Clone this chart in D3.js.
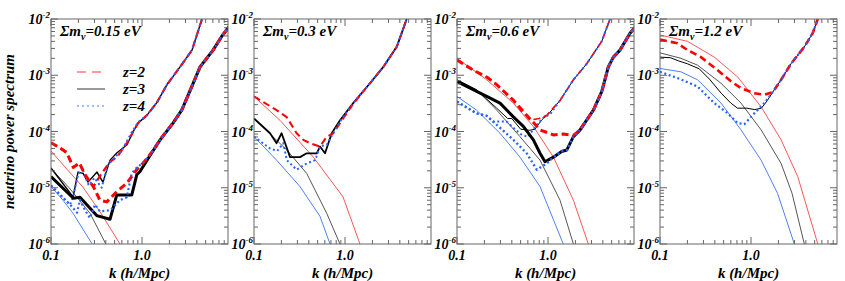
<!DOCTYPE html>
<html><head><meta charset="utf-8">
<script src="https://cdn.jsdelivr.net/npm/d3@7/dist/d3.min.js"></script>
<style>
body{margin:0;background:#fff;}
svg{display:block;}
text{font-family:"Liberation Serif","Times New Roman",serif;font-weight:bold;font-style:italic;fill:#000;}
</style>
</head><body>
<svg id="chart" width="845" height="281"></svg>
<script>
// ---------------- DATA ----------------
const panelMasses = ["0.15", "0.3", "0.6", "1.2"];
const redshiftLabels = ["z=2", "z=3", "z=4"];
const xTickValues = [0.1, 1];
const xTickLabels = ["0.1", "1.0"];
const yTickExponents = [-2, -3, -4, -5, -6];
const xTitle = "k (h/Mpc)";
const yTitle = "neutrino power spectrum";

// Sum m_nu = 0.15 eV
const p015_th_z2 = [[0.1,4.5e-5],[0.151,2.1e-5],[0.225,1.02e-5],[0.355,3.5e-6],[0.573,1.0e-6],[0.79,3.2e-7]];
const p015_th_z3 = [[0.1,2.2e-5],[0.158,1.0e-5],[0.269,3.5e-6],[0.40,1.0e-6],[0.63,2e-7]];
const p015_th_z4 = [[0.1,1.05e-5],[0.132,6.3e-6],[0.175,3.5e-6],[0.283,1.0e-6],[0.447,2.5e-7]];
const p015_lo_z3 = [[0.1,1.58e-5],[0.176,6.5e-6],[0.208,6.8e-6],[0.318,3.2e-6],[0.445,2.75e-6],[0.527,7.4e-6],[0.771,7.4e-6],[0.875,1.7e-5],[0.95,1.95e-5],[1.28,4.2e-5],[1.58,7.1e-5],[2.19,1.41e-4],[2.73,2.4e-4],[3.52,6.3e-4],[4.34,1.41e-3],[6.03,2.8e-3],[7.5,4.9e-3],[9.3,7.8e-3]];
const p015_lo_z2 = [[0.1,6.3e-5],[0.126,5.1e-5],[0.149,4.2e-5],[0.176,2.3e-5],[0.205,2.75e-5],[0.237,1.7e-5],[0.292,1.05e-5],[0.345,6e-6],[0.41,5.6e-6],[0.527,8.5e-6],[0.68,1.2e-5],[0.875,2.1e-5],[1.03,2.75e-5],[1.28,4.3e-5],[1.58,7.2e-5],[2.19,1.42e-4],[2.73,2.4e-4],[3.52,6.3e-4],[4.34,1.4e-3],[6.03,2.8e-3],[7.5,4.9e-3],[9.3,7.8e-3]];
const p015_lo_z4 = [[0.1,1.1e-5],[0.126,7.5e-6],[0.162,5e-6],[0.193,3.6e-6],[0.208,6.1e-6],[0.236,4e-6],[0.268,2.9e-6],[0.305,5e-6],[0.345,3.8e-6],[0.45,4e-6],[0.57,6e-6],[0.68,6.8e-6],[0.77,1.8e-5],[0.88,2.3e-5],[1.03,2.8e-5],[1.28,4.2e-5],[1.58,7.1e-5],[2.19,1.41e-4],[2.73,2.4e-4],[3.52,6.3e-4],[4.34,1.41e-3],[6.03,2.8e-3],[7.5,4.9e-3],[9.3,7.8e-3]];
const p015_hi_z3 = [[0.1,2.24e-5],[0.175,6.9e-6],[0.198,1.9e-5],[0.225,1.8e-5],[0.255,1.26e-5],[0.32,1.9e-5],[0.372,1.26e-5],[0.445,3.1e-5],[0.531,4.2e-5],[0.684,5.8e-5],[0.796,9.8e-5],[0.904,1.41e-4],[1.135,1.95e-4],[1.46,3.3e-4],[1.88,6.8e-4],[2.62,1.41e-3],[3.54,2.8e-3],[4.56,1e-2]];
const p015_hi_z2 = [[0.1,6.3e-5],[0.126,5.1e-5],[0.149,4.2e-5],[0.176,2.3e-5],[0.205,2.75e-5],[0.237,1.7e-5],[0.292,1.05e-5],[0.36,1.8e-5],[0.445,2.9e-5],[0.531,3.5e-5],[0.684,6.3e-5],[0.796,9.8e-5],[0.904,1.41e-4],[1.135,1.95e-4],[1.46,3.3e-4],[1.88,6.8e-4],[2.62,1.41e-3],[3.54,2.8e-3],[4.56,1e-2]];
const p015_hi_z4 = [[0.1,1.1e-5],[0.126,7.5e-6],[0.162,5e-6],[0.175,7e-6],[0.2,1.8e-5],[0.225,2e-5],[0.26,1.1e-5],[0.3,1.5e-5],[0.36,1.0e-5],[0.42,2.5e-5],[0.5,3.5e-5],[0.6,4.5e-5],[0.75,9e-5],[0.904,1.45e-4],[1.135,1.95e-4],[1.46,3.3e-4],[1.88,6.8e-4],[2.62,1.41e-3],[3.54,2.8e-3],[4.56,1e-2]];

// Sum m_nu = 0.3 eV
const p03_th_z2 = [[0.1,4.2e-4],[0.193,1.58e-4],[0.449,3.5e-5],[0.95,6.9e-6],[1.46,1.0e-6],[2.0,2.5e-7]];
const p03_th_z3 = [[0.1,1.7e-4],[0.229,4.7e-5],[0.379,1.8e-5],[0.63,3.5e-6],[0.88,1.0e-6],[1.26,2e-7]];
const p03_th_z4 = [[0.1,8.1e-5],[0.177,3.1e-5],[0.32,1.05e-5],[0.531,3.1e-6],[0.684,1.0e-6],[1.0,2.5e-7]];
const p03_z3 = [[0.1,1.7e-4],[0.15,9.3e-5],[0.177,6.2e-5],[0.201,9.3e-5],[0.249,3.5e-5],[0.32,3.5e-5],[0.379,4.1e-5],[0.489,4.1e-5],[0.531,5.4e-5],[0.603,4.1e-5],[0.714,9.3e-5],[0.881,1.58e-4],[1.23,3.2e-4],[1.88,7.2e-4],[2.64,1.41e-3],[3.7,3.2e-3],[4.76,1e-2]];
const p03_z2 = [[0.1,4.2e-4],[0.177,2.4e-4],[0.229,1.8e-4],[0.294,9.3e-5],[0.348,7.1e-5],[0.412,6.2e-5],[0.531,5.4e-5],[0.63,8.1e-5],[0.743,9.3e-5],[0.881,1.41e-4],[1.23,3.1e-4],[1.88,7.2e-4],[2.64,1.41e-3],[3.7,3.2e-3],[4.76,1e-2]];
const p03_z4 = [[0.1,8.1e-5],[0.15,5e-5],[0.18,4.5e-5],[0.21,6.2e-5],[0.229,3.1e-5],[0.294,2.1e-5],[0.379,2.7e-5],[0.47,3.1e-5],[0.531,5.4e-5],[0.63,5.8e-5],[0.743,9.3e-5],[0.881,1.5e-4],[1.23,3.2e-4],[1.88,7.2e-4],[2.64,1.41e-3],[3.7,3.2e-3],[4.76,1e-2]];

// Sum m_nu = 0.6 eV
const p06_th_z2 = [[0.1,2.0e-3],[0.212,8.3e-4],[0.416,3.2e-4],[0.69,1.23e-4],[1.146,3.5e-5],[1.9,6e-6],[2.77,1.0e-6],[3.98,1.6e-7]];
const p06_th_z3 = [[0.1,8.3e-4],[0.164,5.5e-4],[0.273,2.4e-4],[0.492,8.1e-5],[0.817,3.1e-5],[1.355,6e-6],[1.9,1.0e-6],[2.8,1.3e-7]];
const p06_th_z4 = [[0.1,4.2e-4],[0.164,2.4e-4],[0.297,9.3e-5],[0.492,3.5e-5],[0.817,1.05e-5],[1.47,1.0e-6],[2.24,1.3e-7]];
const p06_lo_z3 = [[0.1,7.7e-4],[0.212,4.2e-4],[0.297,3.2e-4],[0.416,1.82e-4],[0.536,1.23e-4],[0.69,7.1e-5],[0.817,4.1e-5],[0.927,2.9e-5],[1.146,3.5e-5],[1.41,4.4e-5],[1.61,4.7e-5],[1.9,8.1e-5],[2.25,1.07e-4],[3.15,2.4e-4],[3.89,5.1e-4],[4.6,1.41e-3],[5.22,2.1e-3],[6.18,2.8e-3],[7.96,5.6e-3],[9.0,7.1e-3]];
const p06_lo_z2 = [[0.1,1.86e-3],[0.151,1.23e-3],[0.212,9.3e-4],[0.273,6.8e-4],[0.416,3.6e-4],[0.583,1.95e-4],[0.817,1.07e-4],[1.146,8.7e-5],[1.47,9.0e-5],[1.9,8.5e-5],[2.25,1.07e-4],[3.15,2.4e-4],[3.89,5.1e-4],[4.6,1.41e-3],[5.22,2.1e-3],[6.18,2.8e-3],[7.96,5.6e-3],[9.0,7.1e-3]];
const p06_lo_z4 = [[0.1,3.4e-4],[0.164,2.1e-4],[0.212,1.9e-4],[0.25,1.5e-4],[0.416,7.1e-5],[0.583,4.1e-5],[0.752,2.1e-5],[0.968,2.7e-5],[1.146,3.5e-5],[1.41,4.4e-5],[1.61,4.7e-5],[1.9,8.1e-5],[2.25,1.07e-4],[3.15,2.4e-4],[3.89,5.1e-4],[4.6,1.41e-3],[5.22,2.1e-3],[6.18,2.8e-3],[7.96,5.6e-3],[9.0,7.1e-3]];
const p06_hi_z3 = [[0.1,8.3e-4],[0.164,5.5e-4],[0.273,2.6e-4],[0.36,1.7e-4],[0.4,1.7e-4],[0.5,1.1e-4],[0.63,1.05e-4],[0.72,1.1e-4],[0.85,1.6e-4],[1.0,2.0e-4],[1.36,3.6e-4],[1.9,8.3e-4],[2.66,1.6e-3],[3.89,4e-3],[4.8,1e-2]];
const p06_hi_z2 = [[0.1,1.86e-3],[0.151,1.23e-3],[0.212,9.3e-4],[0.273,6.8e-4],[0.416,3.6e-4],[0.5,2.4e-4],[0.634,1.6e-4],[0.8,1.7e-4],[0.968,1.95e-4],[1.36,3.6e-4],[1.9,8.3e-4],[2.66,1.6e-3],[3.89,4e-3],[4.8,1e-2]];
const p06_hi_z4 = [[0.1,3.4e-4],[0.164,2.1e-4],[0.212,1.9e-4],[0.25,1.5e-4],[0.35,1.5e-4],[0.5,9e-5],[0.6,8e-5],[0.75,1.3e-4],[0.9,1.8e-4],[1.05,2.0e-4],[1.36,3.6e-4],[1.9,8.3e-4],[2.66,1.6e-3],[3.89,4e-3],[4.8,1e-2]];

// Sum m_nu = 1.2 eV
const p12_th_z2 = [[0.1,5.2e-3],[0.201,4.0e-3],[0.395,2.1e-3],[0.714,9.3e-4],[1.29,2.75e-4],[2.14,7.1e-5],[3.26,1.58e-5],[5.41,1.0e-6],[7.94,1e-7]];
const p12_th_z3 = [[0.1,2.5e-3],[0.17,2.0e-3],[0.259,1.51e-3],[0.468,7.2e-4],[0.776,3.2e-4],[1.29,1.07e-4],[2.14,2.7e-5],[2.82,8e-6],[3.85,1.0e-6],[5.6,1e-7]];
const p12_th_z4 = [[0.1,1.32e-3],[0.17,1.15e-3],[0.259,8.3e-4],[0.468,3.2e-4],[0.776,1.07e-4],[1.29,3.1e-5],[1.96,7.9e-6],[2.99,1.0e-6],[4.47,1e-7]];
const p12_z2 = [[0.1,4.3e-3],[0.156,3.7e-3],[0.201,2.8e-3],[0.282,2.1e-3],[0.431,1.23e-3],[0.603,7.8e-4],[0.776,5.9e-4],[1.086,4.8e-4],[1.4,4.5e-4],[1.73,5.0e-4],[2.14,8.3e-4],[2.75,1.6e-3],[3.85,3.2e-3],[4.76,5.6e-3],[5.41,1e-2]];
const p12_z3 = [[0.1,2.1e-3],[0.13,2.05e-3],[0.16,1.8e-3],[0.2,1.6e-3],[0.27,1.3e-3],[0.35,8.5e-4],[0.47,4.8e-4],[0.6,3.2e-4],[0.71,2.6e-4],[0.9,2.6e-4],[1.1,2.45e-4],[1.3,2.6e-4],[1.5,3.5e-4],[1.73,5.0e-4],[2.14,8.3e-4],[2.75,1.6e-3],[3.85,3.2e-3],[4.76,5.6e-3],[5.41,1e-2]];
const p12_z4 = [[0.1,1.15e-3],[0.156,8.9e-4],[0.259,6.3e-4],[0.395,3.2e-4],[0.555,2.1e-4],[0.714,1.41e-4],[0.845,1.35e-4],[1.086,2.1e-4],[1.4,3.2e-4],[1.73,5.0e-4],[2.14,8.3e-4],[2.75,1.6e-3],[3.85,3.2e-3],[4.76,5.6e-3],[5.41,1e-2]];

// ---------------- LAYOUT / STYLE ----------------
const panelLefts = [51, 254, 457, 660];
const plotW = 177, plotH = 225, plotTop = 19;
const colors = {z2: "#ff0000", z3: "#000000", z4: "#2a62ff"};
const theoryColors = {z2: "#ff5555", z3: "#555555", z4: "#4d80ff"};
const dashes = {z2: "7,4", z3: null, z4: "2,2.6"};

// [data, redshift, kind, width]
const panelSeries = [
  [[p015_th_z2,"z2","th",1],[p015_th_z3,"z3","th",1],[p015_th_z4,"z4","th",1],
   [p015_hi_z3,"z3","sim",1.4],[p015_hi_z2,"z2","sim",2.2],[p015_hi_z4,"z4","sim",2],
   [p015_lo_z3,"z3","sim",3],[p015_lo_z2,"z2","sim",3],[p015_lo_z4,"z4","sim",2.2]],
  [[p03_th_z2,"z2","th",1],[p03_th_z3,"z3","th",1],[p03_th_z4,"z4","th",1],
   [p03_z3,"z3","sim",1.8],[p03_z2,"z2","sim",2],[p03_z4,"z4","sim",2]],
  [[p06_th_z2,"z2","th",1],[p06_th_z3,"z3","th",1],[p06_th_z4,"z4","th",1],
   [p06_hi_z3,"z3","sim",1],[p06_hi_z2,"z2","sim",1.6],[p06_hi_z4,"z4","sim",2],
   [p06_lo_z3,"z3","sim",3],[p06_lo_z2,"z2","sim",3],[p06_lo_z4,"z4","sim",2.4]],
  [[p12_th_z2,"z2","th",1],[p12_th_z3,"z3","th",1],[p12_th_z4,"z4","th",1],
   [p12_z3,"z3","sim",1],[p12_z2,"z2","sim",2.6],[p12_z4,"z4","sim",2.2]]
];

const svg = d3.select("#chart");
const frameColor = "#666";

// y-axis title
svg.append("text")
  .attr("transform", `translate(14,${plotTop + plotH/2}) rotate(-90)`)
  .attr("text-anchor", "middle").attr("font-size", 15)
  .text(yTitle);

panelMasses.forEach((mass, i) => {
  const left = panelLefts[i];
  const x = d3.scaleLog().domain([0.1, 8.8]).range([0, plotW]);
  const y = d3.scaleLog().domain([1e-6, 1e-2]).range([plotH, 0]);
  const g = svg.append("g").attr("transform", `translate(${left},${plotTop})`);

  const clipId = "clip" + i;
  svg.append("clipPath").attr("id", clipId)
    .append("rect").attr("x", 0).attr("y", 0).attr("width", plotW).attr("height", plotH);

  const line = d3.line().x(d => x(d[0])).y(d => y(d[1]));
  const lines = g.append("g").attr("clip-path", `url(#${clipId})`);
  panelSeries[i].forEach(([data, z, kind, w]) => {
    const p = lines.append("path").datum(data).attr("d", line)
      .attr("fill", "none")
      .attr("stroke", kind === "th" ? theoryColors[z] : colors[z])
      .attr("stroke-width", w)
      .attr("stroke-linejoin", "round");
    if (kind === "sim" && dashes[z]) p.attr("stroke-dasharray", dashes[z]);
  });

  // frame
  g.append("rect").attr("x", 0).attr("y", 0).attr("width", plotW).attr("height", plotH)
    .attr("fill", "none").attr("stroke", frameColor).attr("stroke-width", 1);

  // ticks
  const tk = g.append("g").attr("stroke", frameColor).attr("stroke-width", 1);
  x.ticks().forEach(t => {
    const major = Math.abs(Math.log10(t) - Math.round(Math.log10(t))) < 1e-6;
    const len = major ? 7 : 4, px = x(t);
    tk.append("line").attr("x1", px).attr("x2", px).attr("y1", plotH).attr("y2", plotH - len);
    tk.append("line").attr("x1", px).attr("x2", px).attr("y1", 0).attr("y2", len);
  });
  y.ticks().forEach(t => {
    const major = Math.abs(Math.log10(t) - Math.round(Math.log10(t))) < 1e-6;
    const len = major ? 7 : 4, py = y(t);
    tk.append("line").attr("x1", 0).attr("x2", len).attr("y1", py).attr("y2", py);
    tk.append("line").attr("x1", plotW).attr("x2", plotW - len).attr("y1", py).attr("y2", py);
  });

  // x tick labels
  xTickValues.forEach((v, j) => {
    g.append("text").attr("x", x(v)).attr("y", plotH + 16)
      .attr("text-anchor", "middle").attr("font-size", 14).text(xTickLabels[j]);
  });
  // y tick labels
  yTickExponents.forEach(e => {
    const t = g.append("text").attr("x", -1).attr("y", y(Math.pow(10, e)) + 5)
      .attr("text-anchor", "end").attr("font-size", 14);
    t.append("tspan").text("10");
    t.append("tspan").attr("dy", -6).attr("font-size", 9).text(String(e));
  });
  // x title
  g.append("text").attr("x", plotW/2).attr("y", plotH + 34)
    .attr("text-anchor", "middle").attr("font-size", 15).text(xTitle);

  // panel title
  const tt = g.append("text").attr("x", 9).attr("y", 17).attr("font-size", 15);
  tt.append("tspan").text("\u03A3m");
  tt.append("tspan").attr("dy", 4).attr("font-size", 10).text("\u03BD");
  tt.append("tspan").attr("dy", -4).text("=" + mass + " eV");

  // legend in first panel
  if (i === 0) {
    const legendColors = ["#ff9a9a", "#999999", "#7fa6ff"];
    const legendDash = ["9,6", null, "2,3"];
    const legendW = [2, 2, 1.6];
    redshiftLabels.forEach((lab, j) => {
      const ly = 53 + j * 17;
      const l = g.append("line").attr("x1", 26).attr("x2", 54).attr("y1", ly).attr("y2", ly)
        .attr("stroke", legendColors[j]).attr("stroke-width", legendW[j]);
      if (legendDash[j]) l.attr("stroke-dasharray", legendDash[j]);
      g.append("text").attr("x", 72).attr("y", ly + 5).attr("font-size", 15).text(lab);
    });
  }
});
</script>
</body></html>
